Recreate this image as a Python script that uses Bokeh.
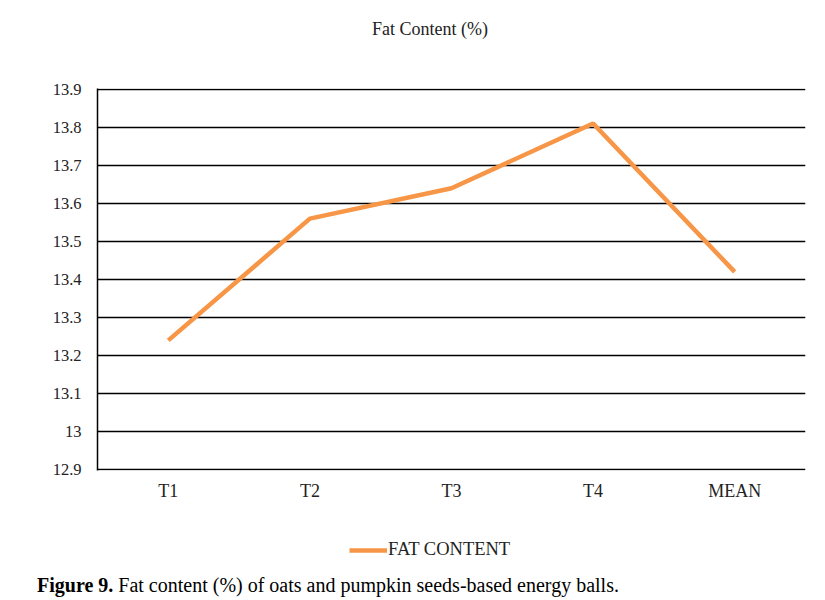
from bokeh.plotting import figure
from bokeh.layouts import column
from bokeh.models import Div, Legend, LegendItem, SingleIntervalTicker
from bokeh.embed import file_html
from bokeh.resources import INLINE

# ---------- data ----------
categories = ["T1", "T2", "T3", "T4", "MEAN"]
fat_content = [13.24, 13.56, 13.64, 13.81, 13.42]

FONT = "Times New Roman"
ORANGE = "#F79646"
TEXT = "#222222"

# ---------- chart title ----------
title = Div(text="Fat Content (%)", width=809, height=58, margin=0,
            styles={"font-family": "'Times New Roman', serif", "font-size": "18px",
                    "line-height": "58px", "padding-left": "51px",
                    "text-align": "center", "color": TEXT, "white-space": "nowrap"})

# ---------- main chart ----------
p = figure(width=809, height=472, x_range=categories, y_range=(12.898, 13.902),
           output_backend="svg", toolbar_location=None,
           min_border_left=97, min_border_right=4,
           min_border_top=30, min_border_bottom=60)
p.outline_line_color = None

p.yaxis.ticker = SingleIntervalTicker(interval=0.1)
p.yaxis.major_label_overrides = {13.0: "13"}
p.yaxis.axis_line_color = "black"
p.yaxis.axis_line_width = 1.5
p.yaxis.major_tick_line_color = None
p.yaxis.minor_tick_line_color = None
p.yaxis.major_label_text_font = FONT
p.yaxis.major_label_text_font_size = "16.5px"
p.yaxis.major_label_text_color = TEXT
p.yaxis.major_label_standoff = 10

p.xaxis.axis_line_color = None
p.xaxis.major_tick_line_color = None
p.xaxis.minor_tick_line_color = None
p.xaxis.major_label_text_font = FONT
p.xaxis.major_label_text_font_size = "18px"
p.xaxis.major_label_text_color = TEXT
p.xaxis.major_label_standoff = 4

p.xgrid.grid_line_color = None
p.ygrid.grid_line_color = "black"
p.ygrid.grid_line_width = 1.5

p.line(categories, fat_content, line_color=ORANGE, line_width=4.5)

# ---------- legend strip ----------
# key line sits outside the strip's y range, only its legend glyph shows
c = figure(width=809, height=40, x_range=(0, 1), y_range=(0, 1),
           x_axis_type=None, y_axis_type=None,
           output_backend="svg", toolbar_location=None,
           min_border=0, min_border_left=97, min_border_right=4)
c.outline_line_color = None
c.grid.visible = False

key = c.line(x=list(range(len(fat_content))), y=fat_content,
             line_color=ORANGE, line_width=4.5)
legend = Legend(items=[LegendItem(label="FAT CONTENT", renderers=[key])],
                location=(252, 10), orientation="horizontal",
                label_text_font=FONT, label_text_font_size="18.5px",
                label_text_color=TEXT, glyph_width=38,
                label_standoff=1, padding=0, margin=0, spacing=0,
                border_line_color=None, background_fill_alpha=0)
c.add_layout(legend, "center")

# ---------- caption ----------
caption = Div(text="<b>Figure 9.</b> Fat content (%) of oats and pumpkin seeds-based energy balls.",
              width=809, height=30, margin=0,
              styles={"font-family": "'Times New Roman', serif", "font-size": "20px",
                      "line-height": "30px", "padding-left": "37px",
                      "color": "black", "white-space": "nowrap"})

page = column(title, p, c, caption, spacing=0)
open("out.html", "w").write(file_html(page, INLINE))
